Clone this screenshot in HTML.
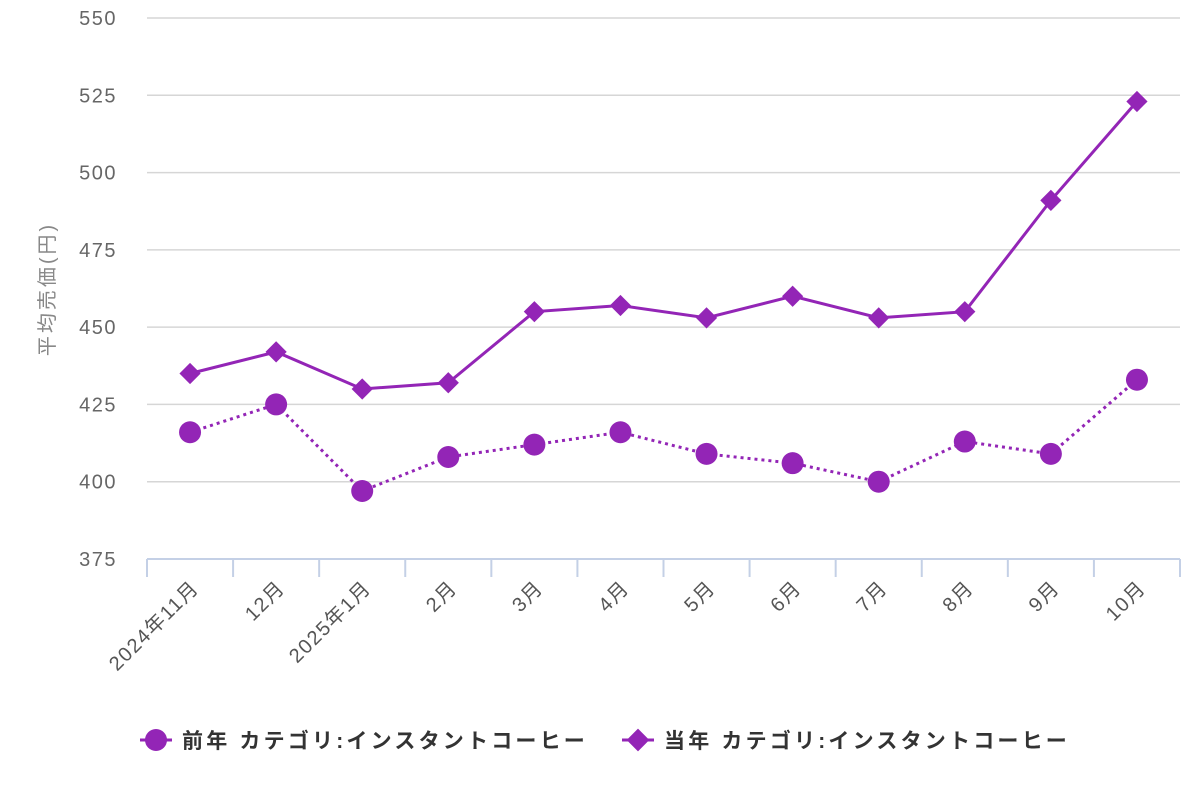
<!DOCTYPE html>
<html><head><meta charset="utf-8"><style>
html,body{margin:0;padding:0;background:#fff;}
svg{display:block;font-family:"Liberation Sans","Noto Sans CJK JP",sans-serif;}
</style></head><body>
<svg id="chart" width="1200" height="800" xmlns="http://www.w3.org/2000/svg">
<g id="grid"></g>
<g id="yaxis"></g>
<g id="xaxis"></g>
<g id="series"></g>
<text transform="translate(54,289) rotate(-90)" text-anchor="middle" font-size="20" letter-spacing="3" fill="#888">平均売価(円)</text>
<g>
 <g>
  <line x1="140" y1="740" x2="172" y2="740" stroke="#9325b6" stroke-width="3"/>
  <circle cx="156" cy="740" r="11" fill="#9325b6"/>
  <text x="182" y="748" font-size="21" letter-spacing="3.2" fill="#333" font-weight="bold">前年 カテゴリ:インスタントコーヒー</text>
 </g>
 <g>
  <line x1="622" y1="740" x2="654" y2="740" stroke="#9325b6" stroke-width="3"/>
  <rect x="630" y="732" width="16" height="16" fill="#9325b6" transform="rotate(45 638 740)"/>
  <text x="664" y="748" font-size="21" letter-spacing="3.2" fill="#333" font-weight="bold">当年 カテゴリ:インスタントコーヒー</text>
 </g>
</g>
</svg>
<script>
const categories = ["2024年11月","12月","2025年1月","2月","3月","4月","5月","6月","7月","8月","9月","10月"];
const prevValues = [416,425,397,408,412,416,409,406,400,413,409,433];
const currValues = [435,442,430,432,455,457,453,460,453,455,491,523];
const yTicks = [375,400,425,450,475,500,525,550];
const NS="http://www.w3.org/2000/svg";
const L=147,R=1180,T=18,B=559,yMin=375,yMax=550;
const bw=(R-L)/categories.length;
function xs(i){return L+bw*(i+0.5);}
function ys(v){return B-(v-yMin)/(yMax-yMin)*(B-T);}
function mk(tag,attrs,parent){const e=document.createElementNS(NS,tag);for(const k in attrs)e.setAttribute(k,attrs[k]);parent.appendChild(e);return e;}
const grid=document.getElementById('grid'),ya=document.getElementById('yaxis'),xa=document.getElementById('xaxis'),se=document.getElementById('series');
yTicks.forEach(v=>{
 if(v!==yMin){const g=mk('line',{x1:L,x2:R,y1:ys(v),y2:ys(v),stroke:'#d6d6d6','stroke-width':1.5},grid);
 
 }
 const t=mk('text',{x:117,y:ys(v)+7,'text-anchor':'end','font-size':20,'letter-spacing':1.5,fill:'#666'},ya);
 
 
 t.textContent=v;
});
const axl=mk('line',{x1:L,x2:R,y1:B,y2:B,stroke:'#c4d0e6','stroke-width':2},xa);


for(let i=0;i<=categories.length;i++){
 const tk=mk('line',{x1:L+bw*i,x2:L+bw*i,y1:B,y2:B+18,stroke:'#c4d0e6','stroke-width':2},xa);
 
 
}
categories.forEach((c,i)=>{
 const x=xs(i)+10,y=B+30;
 const t=mk('text',{x:x,y:y,'text-anchor':'end','font-size':20,'letter-spacing':1.5,fill:'#555',transform:`rotate(-45 ${x} ${y})`},xa);
 
 
 t.textContent=c;
});
const col='#9325b6';
const p1=mk('polyline',{points:prevValues.map((v,i)=>xs(i)+','+ys(v)).join(' '),fill:'none',stroke:col,'stroke-width':3,'stroke-dasharray':'3,4'},se);


const p2=mk('polyline',{points:currValues.map((v,i)=>xs(i)+','+ys(v)).join(' '),fill:'none',stroke:col,'stroke-width':3},se);


prevValues.forEach((v,i)=>{
 const c=mk('circle',{cx:xs(i),cy:ys(v),r:11,fill:col},se);
 
 
});
currValues.forEach((v,i)=>{
 const x=xs(i),y=ys(v);
 const r=mk('rect',{x:x-7.5,y:y-7.5,width:15,height:15,fill:col,transform:`rotate(45 ${x} ${y})`},se);
 
 
});
</script>
</body></html>
